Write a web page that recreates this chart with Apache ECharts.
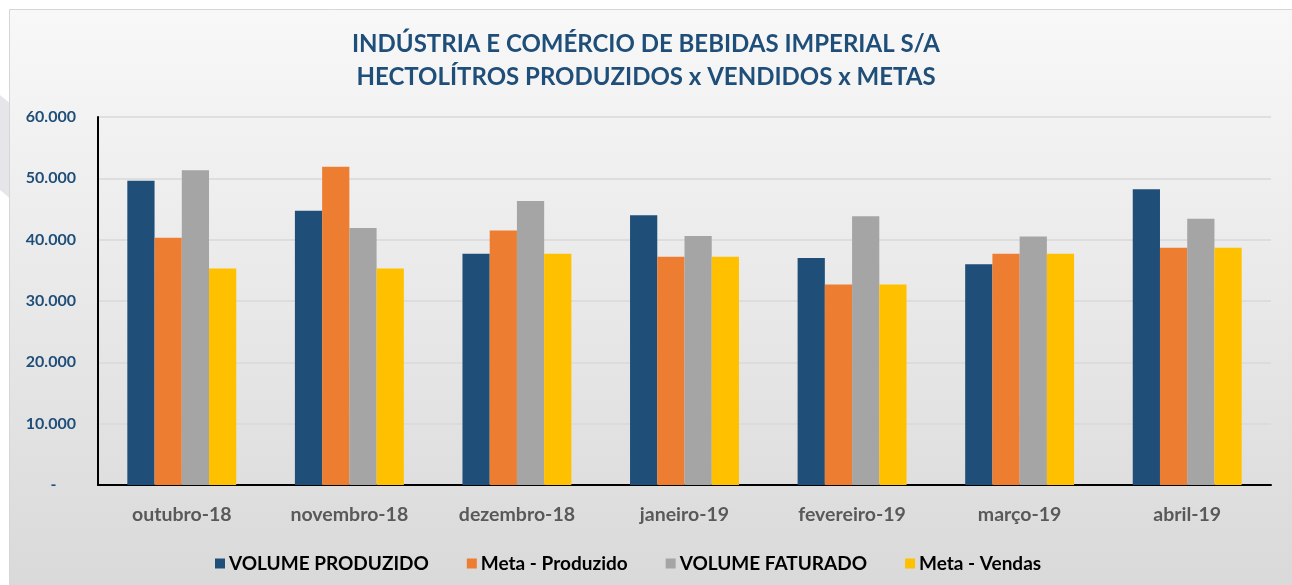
<!DOCTYPE html>
<html><head><meta charset="utf-8">
<script src="https://cdn.jsdelivr.net/npm/echarts@6/dist/echarts.min.js"></script>
<style>html,body{margin:0;padding:0;background:#fff;}#c{width:1292px;height:585px;}</style>
</head><body><div id="c"></div>
<script>
const categories = ['outubro-18','novembro-18','dezembro-18','janeiro-19','fevereiro-19','março-19','abril-19'];
const volumeProduzido = [49600, 44700, 37700, 44000, 37000, 36000, 48200];
const metaProduzido   = [40300, 51900, 41500, 37200, 32700, 37700, 38700];
const volumeFaturado  = [51300, 41900, 46300, 40600, 43800, 40500, 43400];
const metaVendas      = [35300, 35300, 37700, 37200, 32700, 37700, 38700];
const seriesNames = ['VOLUME PRODUZIDO','Meta - Produzido','VOLUME FATURADO','Meta - Vendas'];
const titleLines = ['INDÚSTRIA E COMÉRCIO DE BEBIDAS IMPERIAL S/A','HECTOLÍTROS PRODUZIDOS x VENDIDOS x METAS'];

const colors = ['#1F4E79','#ED7D31','#A5A5A5','#FFC000'];
const FONT = 'Lato';
const chart = echarts.init(document.getElementById('c'));
const dataSets = [volumeProduzido, metaProduzido, volumeFaturado, metaVendas];
chart.setOption({
  animation: false,
  color: colors,
  graphic: [
    {type:'polygon', z:-20, shape:{points:[[0,95],[30,120],[30,215],[0,190]]}, style:{fill:'#e6e6ea'}},
    {type:'rect', z:-10, shape:{x:9.5,y:9.5,width:1300,height:600},
     style:{fill:new echarts.graphic.LinearGradient(0,0,0,1,[{offset:0,color:'#f8f8f8'},{offset:1,color:'#d8d8d8'}]), stroke:'#d6d6d6', lineWidth:1}}
  ],
  title: {
    text: titleLines.join('\n'),
    left: 'center', top: 23,
    textStyle: {color:'#1F4E79', fontFamily: FONT, fontWeight:'bold', fontSize: 24, lineHeight: 33}
  },
  legend: {
    bottom: 7, left: 210,
    itemWidth: 10, itemHeight: 10, itemGap: 38,
    icon: 'rect',
    textStyle: {color:'#000', fontFamily: FONT, fontWeight:'bold', fontSize: 19, padding:[0,0,0,-1]},
    data: seriesNames
  },
  grid: {left: 98, right: 21, top: 117, bottom: 100},
  xAxis: {
    type: 'category', data: categories,
    axisLine: {lineStyle: {color:'#000', width: 2}},
    axisTick: {show:false},
    axisLabel: {color:'#595959', fontFamily: FONT, fontWeight:'bold', fontSize: 19.5, margin: 20}
  },
  yAxis: {
    type: 'value', min: 0, max: 60000, interval: 10000,
    axisLine: {show:true, lineStyle: {color:'#000', width: 2}},
    axisTick: {show:false},
    splitLine: {lineStyle: {color:'#d9d9d9', width: 1.5}},
    axisLabel: {color:'#1F4E79', fontFamily: FONT, fontWeight:'bold', fontSize: 16, margin: 22,
      formatter: v => v === 0 ? '-     ' : v.toLocaleString('pt-BR')}
  },
  series: seriesNames.map((n,i) => ({
    name: n, type: 'bar', data: dataSets[i],
    barGap: '0%', barCategoryGap: '35%',
    itemStyle: {color: colors[i]}
  }))
});
</script></body></html>
